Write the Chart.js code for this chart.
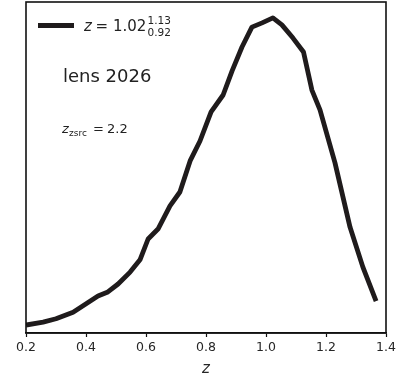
<!DOCTYPE html>
<html>
<head>
<meta charset="utf-8">
<script src="https://cdn.jsdelivr.net/npm/chart.js@4"></script>
<style>
  html, body { margin: 0; padding: 0; background: #fff; }
  #wrap { width: 402px; height: 382px; }
</style>
</head>
<body>
<div id="wrap"><canvas id="pz" width="402" height="382"></canvas></div>
<script>
/* photo-z posterior for one lens */

const Z_GRID = [0.200, 0.257, 0.300, 0.357, 0.403, 0.440, 0.473, 0.507, 0.547, 0.580,
                0.607, 0.640, 0.680, 0.713, 0.747, 0.780, 0.817, 0.857, 0.887, 0.920,
                0.953, 0.987, 1.023, 1.053, 1.090, 1.125, 1.153, 1.180, 1.230, 1.280,
                1.323, 1.367];
const PDF = [0.024, 0.033, 0.043, 0.063, 0.090, 0.112, 0.124, 0.148, 0.184, 0.221,
             0.284, 0.314, 0.384, 0.426, 0.520, 0.580, 0.668, 0.719, 0.792, 0.864,
             0.924, 0.937, 0.952, 0.931, 0.891, 0.849, 0.734, 0.674, 0.514, 0.320,
             0.199, 0.096];
const X_TICKS = [0.2, 0.4, 0.6, 0.8, 1.0, 1.2, 1.4];

const Z_BEST = '1.02', Z_HI = '1.13', Z_LO = '0.92';
const LENS_ID = 'lens 2026';
const Z_SRC = '2.2';

const INK = '#1f1b1c';
const FONT = '"DejaVu Sans", sans-serif';

// frame + legend + annotations, drawn on top
const annotate = {
  id: 'annotate',
  afterDraw(chart) {
    const { ctx, chartArea: a } = chart;
    ctx.save();
    ctx.strokeStyle = '#111';
    ctx.lineWidth = 1.6;
    ctx.strokeRect(a.left, a.top, a.right - a.left, a.bottom - a.top);

    // legend entry
    ctx.strokeStyle = INK;
    ctx.lineWidth = 5;
    ctx.beginPath();
    ctx.moveTo(38, 25.5);
    ctx.lineTo(74, 25.5);
    ctx.stroke();

    ctx.fillStyle = '#222';
    ctx.textBaseline = 'alphabetic';
    ctx.textAlign = 'left';
    ctx.font = 'italic 15px ' + FONT;
    ctx.fillText('z', 84, 31);
    ctx.font = '15px ' + FONT;
    ctx.fillText('=', 95.5, 31);
    ctx.fillText(Z_BEST, 113, 31);
    ctx.font = '10.5px ' + FONT;
    ctx.fillText(Z_HI, 147.5, 24);
    ctx.fillText(Z_LO, 147.5, 36);

    ctx.font = '18px ' + FONT;
    ctx.fillText(LENS_ID, 63, 82);

    ctx.font = 'italic 13px ' + FONT;
    ctx.fillText('z', 62, 133);
    ctx.font = '9px ' + FONT;
    ctx.fillText('zsrc', 69, 136);
    ctx.font = '13px ' + FONT;
    ctx.fillText('=', 93, 133);
    ctx.fillText(Z_SRC, 107, 133);
    ctx.restore();
  }
};

new Chart(document.getElementById('pz'), {
  type: 'line',
  data: {
    datasets: [{
      data: Z_GRID.map((z, i) => ({ x: z, y: PDF[i] })),
      borderColor: INK,
      borderWidth: 4.8,
      pointRadius: 0,
      tension: 0,
      fill: false,
      borderJoinStyle: 'round',
    }],
  },
  options: {
    responsive: false,
    devicePixelRatio: 1,
    animation: false,
    layout: { padding: { left: 26, right: 16, top: 2, bottom: 0 } },
    plugins: { legend: { display: false }, tooltip: { enabled: false } },
    scales: {
      x: {
        type: 'linear',
        min: 0.2,
        max: 1.4,
        afterBuildTicks: s => { s.ticks = X_TICKS.map(v => ({ value: v })); },
        afterFit: s => { s.height = 49; },
        grid: { display: true, drawOnChartArea: false, drawTicks: true, tickLength: 4, color: '#111', tickWidth: 1.2 },
        border: { display: true, color: '#111', width: 1.6 },
        ticks: {
          color: '#262626',
          padding: 3,
          font: { family: FONT, size: 12.5 },
          maxRotation: 0,
          callback: v => Number(v).toFixed(1),
        },
        title: {
          display: true,
          text: 'z',
          color: '#262626',
          font: { family: FONT, size: 15, style: 'italic' },
          padding: { top: 0, bottom: 4 },
        },
      },
      y: { display: false, min: 0, max: 1 },
    },
  },
  plugins: [annotate],
});
</script>
</body>
</html>
